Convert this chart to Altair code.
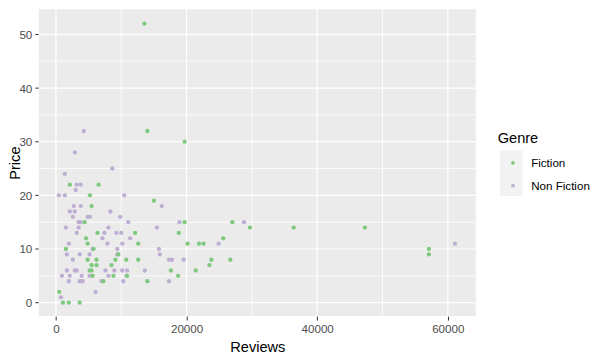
import altair as alt
import pandas as pd

genres = ["Fiction", "Non Fiction"]
genre_colors = ["#7FC97F", "#BEAED4"]

fiction_reviews = [13550, 14000, 19700, 2120, 6520, 5200, 15000, 5450, 4390, 19700,
                   27000, 29700, 36400, 47300, 6360, 12120, 18800, 4600, 25600, 4850,
                   12600, 20150, 21900, 22600, 1520, 5760, 57100, 9550, 57100, 4850,
                   6210, 9100, 10760, 12600, 23800, 26700, 5450, 6210, 8500, 23500,
                   5150, 5450, 17600, 21400, 5600, 8800, 10900, 18700, 7270, 14000,
                   500, 1060, 1970, 3640]
fiction_price = [52, 32, 30, 22, 22, 20, 19, 18, 15, 15,
                 15, 14, 14, 14, 13, 13, 13, 12, 12, 11,
                 11, 11, 11, 11, 10, 10, 10, 9, 9, 8,
                 8, 8, 8, 8, 8, 8, 7, 7, 7, 7,
                 6, 6, 6, 6, 5, 5, 5, 5, 4, 4,
                 2, 0, 0, 0]

nonfiction_reviews = [4260, 2900, 8640, 1360, 3180, 3790, 3030, 450, 1360, 10450,
                      16200, 2730, 3790, 2120, 2880, 8330, 2580, 4850, 5200, 9850,
                      3480, 3790, 11060, 18900, 28800, 1520, 3480, 8030, 15450, 3180,
                      7420, 9240, 10000, 7120, 11360, 1970, 7880, 10150, 24900, 61100,
                      5600, 9390, 15760, 1670, 3640, 5150, 9390, 15900, 2580, 17300,
                      17750, 19550, 1670, 2880, 3180, 7580, 8940, 10150, 10900, 13600,
                      910, 2120, 3940, 5150, 8030, 10800, 1970, 3640, 3940, 4090,
                      6970, 10300, 17300, 6060, 760]
nonfiction_price = [32, 28, 25, 24, 22, 22, 21, 20, 20, 20,
                    18, 18, 18, 17, 17, 17, 16, 16, 16, 16,
                    15, 15, 15, 15, 15, 14, 14, 14, 14, 13,
                    13, 13, 13, 12, 12, 11, 11, 11, 11, 11,
                    10, 10, 10, 9, 9, 9, 9, 9, 8, 8,
                    8, 8, 6, 6, 6, 6, 6, 6, 6, 6,
                    5, 5, 5, 5, 5, 5, 4, 4, 4, 4,
                    4, 4, 4, 2, 1]

x_major = [0, 20000, 40000, 60000]
x_minor = [10000, 30000, 50000]
y_major = [0, 10, 20, 30, 40, 50]
y_minor = [5, 15, 25, 35, 45]

rows = []
for r, p in zip(nonfiction_reviews, nonfiction_price):
    rows.append({"Reviews": r, "Price": p, "Genre": "Non Fiction"})
for r, p in zip(fiction_reviews, fiction_price):
    rows.append({"Reviews": r, "Price": p, "Genre": "Fiction"})
df = pd.DataFrame(rows)

FONT = "Liberation Sans"
W, H = 440, 309

xscale = alt.Scale(domain=[-2630, 64290], nice=False, zero=False)
yscale = alt.Scale(domain=[-2.5, 54.7], nice=False, zero=False)

xaxis = alt.Axis(values=x_major, title="Reviews", format="d", grid=False,
                 domain=False,
                 tickColor="#333333", tickSize=4, tickWidth=1,
                 labelColor="#4D4D4D", labelFontSize=11.7, labelFont=FONT,
                 labelPadding=4, titleFont=FONT, titleFontSize=14.7,
                 titleFontWeight="normal", titleColor="black",
                 titleX=W / 2, titleY=35.3, titleBaseline="alphabetic")
yaxis = alt.Axis(values=y_major, title="Price", format="d", grid=False,
                 domain=False,
                 tickColor="#333333", tickSize=4, tickWidth=1,
                 labelColor="#4D4D4D", labelFontSize=11.7, labelFont=FONT,
                 labelPadding=3, titleFont=FONT, titleFontSize=14.7,
                 titleFontWeight="normal", titleColor="black",
                 titleX=-19.5, titleY=H / 2, titleBaseline="alphabetic", titleAngle=270)

panel = alt.Chart(pd.DataFrame({"k": [0]})).mark_rect(color="#EBEBEB").encode(
    x=alt.value(0), x2=alt.value(W), y=alt.value(0), y2=alt.value(H)
)


def vrules(vals, w):
    return alt.Chart(pd.DataFrame({"v": vals})).mark_rule(
        color="white", strokeWidth=w
    ).encode(x=alt.X("v:Q", scale=xscale, axis=xaxis))


def hrules(vals, w):
    return alt.Chart(pd.DataFrame({"h": vals})).mark_rule(
        color="white", strokeWidth=w
    ).encode(y=alt.Y("h:Q", scale=yscale, axis=yaxis))


keybg = alt.Chart(pd.DataFrame({"Key": genres})).mark_square(opacity=0).encode(
    fill=alt.Fill("Key:N", scale=alt.Scale(domain=genres, range=["#F2F2F2", "#F2F2F2"]),
                  legend=alt.Legend(orient="none", legendX=464, legendY=142,
                                    title=None, symbolType="square", symbolSize=529,
                                    symbolStrokeWidth=0, symbolOpacity=1,
                                    symbolFillColor="#F2F2F2", symbolOffset=0,
                                    labelExpr="''", labelFontSize=1,
                                    clipHeight=23, rowPadding=0, padding=0,
                                    zindex=0))
)

points = alt.Chart(df).mark_circle(size=19, opacity=1).encode(
    x=alt.X("Reviews:Q", scale=xscale, axis=xaxis),
    y=alt.Y("Price:Q", scale=yscale, axis=yaxis),
    color=alt.Color("Genre:N", scale=alt.Scale(domain=genres, range=genre_colors),
                    legend=alt.Legend(orient="none", legendX=462, legendY=123,
                                      title="Genre", titleFont=FONT, titleFontSize=14.7,
                                      titleFontWeight="normal", titleColor="black",
                                      titlePadding=5.5, labelFont=FONT,
                                      labelFontSize=11.7, labelColor="black",
                                      symbolType="circle", symbolSize=14,
                                      symbolOffset=9.5, labelOffset=12.5,
                                      clipHeight=23, rowPadding=0, padding=0,
                                      zindex=1)),
    order=alt.Order("Genre:N", sort="descending"),
)

chart = alt.layer(
    panel,
    vrules(x_minor, 0.8), hrules(y_minor, 0.8),
    vrules(x_major, 1.2), hrules(y_major, 1.2),
    keybg, points,
).resolve_legend(
    color="independent", fill="independent"
).properties(
    width=W, height=H,
    autosize=alt.AutoSizeParams(type="none"),
    padding={"left": 31, "top": 0, "right": 120, "bottom": 40},
    background="white",
).configure(font=FONT).configure_view(fill="#EBEBEB", stroke=None)

chart.save("out.html", embed_options={"renderer": "svg", "actions": False})
